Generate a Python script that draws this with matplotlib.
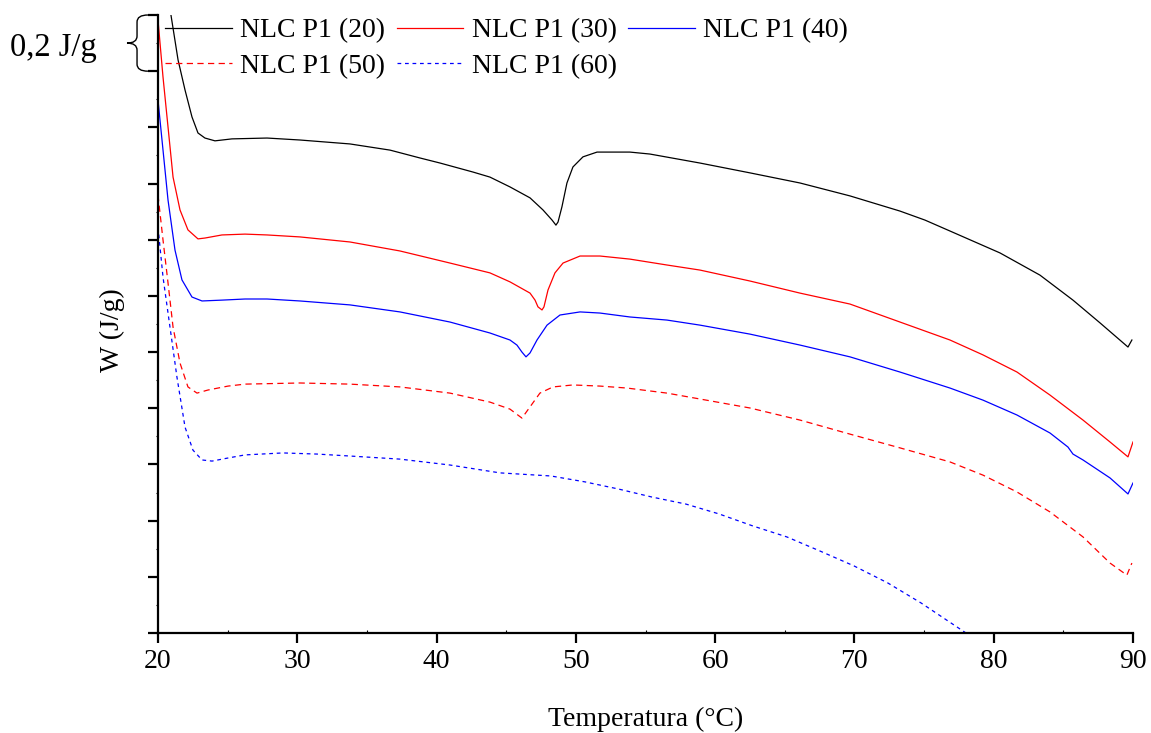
import matplotlib
matplotlib.use("Agg")
import matplotlib.pyplot as plt
from matplotlib.path import Path
from matplotlib.patches import PathPatch
from matplotlib.transforms import blended_transform_factory
from matplotlib.ticker import MultipleLocator, NullFormatter

plt.rcParams['font.family'] = ['Liberation Serif', 'DejaVu Serif']

# NLC P1 (20)
t20 = [20.93, 21.44, 21.94, 22.44, 22.87, 23.37, 24.09, 25.31, 27.83, 30.19,
       33.78, 36.66, 38.81, 40.25, 42.61, 43.83, 45.27, 46.71, 47.64, 48.29,
       48.57, 48.72, 49.00, 49.36, 49.79, 50.51, 51.52, 52.45, 53.88, 55.32,
       58.91, 62.50, 66.09, 69.68, 73.27, 75.06, 76.86, 80.45, 83.32, 85.69,
       87.63, 89.64, 89.92]
w20 = [2.200, 2.040, 1.933, 1.837, 1.780, 1.762, 1.752, 1.759, 1.762, 1.755,
       1.741, 1.719, 1.691, 1.673, 1.641, 1.623, 1.588, 1.549, 1.506, 1.470,
       1.452, 1.463, 1.517, 1.602, 1.659, 1.695, 1.712, 1.712, 1.712, 1.705,
       1.673, 1.638, 1.602, 1.556, 1.502, 1.470, 1.431, 1.353, 1.274, 1.185,
       1.104, 1.018, 1.043]

# NLC P1 (30)
t30 = [20.00, 20.36, 20.72, 21.08, 21.58, 22.15, 22.87, 23.37, 24.59, 26.25,
       27.83, 30.19, 33.78, 37.37, 40.96, 43.83, 45.27, 46.71, 47.07, 47.28,
       47.57, 47.71, 48.00, 48.50, 49.08, 50.30, 51.73, 53.88, 56.54, 58.91,
       62.50, 66.09, 69.68, 73.27, 76.86, 79.23, 81.67, 84.04, 86.41, 88.35,
       89.64, 90.00]
w30 = [2.182, 1.979, 1.801, 1.623, 1.506, 1.435, 1.403, 1.406, 1.417, 1.420,
       1.417, 1.410, 1.392, 1.360, 1.317, 1.282, 1.250, 1.210, 1.185, 1.161,
       1.150, 1.161, 1.221, 1.282, 1.317, 1.342, 1.342, 1.331, 1.310, 1.292,
       1.253, 1.210, 1.171, 1.107, 1.043, 0.990, 0.929, 0.847, 0.758, 0.680,
       0.627, 0.680]

# NLC P1 (40)
t40 = [20.00, 20.36, 20.72, 21.22, 21.72, 22.44, 23.16, 24.59, 26.25, 27.83,
       30.19, 33.78, 37.37, 40.96, 43.83, 45.27, 45.77, 46.13, 46.42, 46.71,
       47.21, 47.93, 48.86, 50.30, 51.73, 53.88, 56.54, 58.91, 62.50, 66.09,
       69.68, 73.27, 76.86, 79.23, 81.67, 84.04, 85.33, 85.69, 86.41, 88.35,
       89.64, 90.00]
w40 = [1.897, 1.719, 1.541, 1.363, 1.257, 1.196, 1.182, 1.185, 1.189, 1.189,
       1.182, 1.168, 1.143, 1.107, 1.068, 1.043, 1.025, 1.000, 0.983, 0.997,
       1.043, 1.096, 1.132, 1.143, 1.139, 1.125, 1.114, 1.096, 1.064, 1.025,
       0.983, 0.929, 0.872, 0.829, 0.776, 0.712, 0.662, 0.637, 0.616, 0.552,
       0.495, 0.534]

# NLC P1 (50)
t50 = [20.00, 20.36, 20.72, 21.08, 21.58, 22.15, 22.80, 23.59, 25.03, 26.25,
       30.19, 33.78, 37.37, 40.96, 43.83, 45.27, 46.13, 46.71, 47.42, 48.36,
       49.79, 51.73, 53.67, 56.54, 58.91, 62.50, 66.09, 69.68, 73.27, 76.86,
       79.23, 81.67, 84.04, 86.41, 88.35, 89.56, 89.92]
w50 = [1.559, 1.399, 1.246, 1.089, 0.961, 0.876, 0.854, 0.865, 0.879, 0.886,
       0.890, 0.886, 0.876, 0.854, 0.822, 0.797, 0.765, 0.805, 0.854, 0.876,
       0.883, 0.879, 0.872, 0.854, 0.833, 0.801, 0.758, 0.708, 0.659, 0.609,
       0.562, 0.502, 0.431, 0.342, 0.249, 0.206, 0.249]

# NLC P1 (60)
t60 = [20.00, 20.36, 20.86, 21.36, 21.94, 22.51, 23.16, 23.88, 25.03, 26.25,
       28.97, 31.41, 33.78, 37.37, 40.96, 44.55, 48.21, 50.65, 53.02, 55.46,
       57.90, 60.27, 62.71, 65.15, 67.52, 69.96, 72.40, 74.78, 78.01]
w60 = [1.445, 1.267, 1.089, 0.911, 0.733, 0.651, 0.616, 0.612, 0.623, 0.634,
       0.641, 0.637, 0.630, 0.619, 0.598, 0.570, 0.559, 0.538, 0.513, 0.484,
       0.459, 0.424, 0.381, 0.342, 0.292, 0.239, 0.178, 0.107, 0.000]

labels = ["NLC P1 (20)", "NLC P1 (30)", "NLC P1 (40)", "NLC P1 (50)", "NLC P1 (60)"]

fig = plt.figure(figsize=(11.51, 7.33), dpi=100)
ax = fig.add_axes([158/1151, 1 - 633/733, 975/1151, 618/733])

l20, = ax.plot(t20, w20, color="black", lw=0.9, label=labels[0])
l30, = ax.plot(t30, w30, color="red", lw=0.9, label=labels[1])
l40, = ax.plot(t40, w40, color="blue", lw=0.9, label=labels[2])
l50, = ax.plot(t50, w50, color="red", lw=0.9, ls=(0, (5, 3.5)), label=labels[3])
l60, = ax.plot(t60, w60, color="blue", lw=0.9, ls=(0, (3, 3)), label=labels[4])

ax.set_xlim(20, 90)
ax.set_ylim(0, 2.2)
ax.xaxis.set_major_locator(MultipleLocator(10))
ax.xaxis.set_minor_locator(MultipleLocator(5))
ax.yaxis.set_major_locator(MultipleLocator(0.2))
ax.yaxis.set_minor_locator(MultipleLocator(0.1))
ax.yaxis.set_major_formatter(NullFormatter())
for s in ["top", "right"]:
    ax.spines[s].set_visible(False)
for s in ["left", "bottom"]:
    ax.spines[s].set_linewidth(1.6)
ax.tick_params(axis="x", which="major", direction="out", length=7, width=1.6,
               labelsize=20, pad=4.5)
ax.tick_params(axis="x", which="minor", direction="in", length=2, width=0.8)
ax.tick_params(axis="y", which="major", direction="out", length=7, width=1.6)
ax.tick_params(axis="y", which="minor", direction="out", length=1.5, width=0.8)

ax.set_xlabel("Temperatura (°C)", fontsize=20, labelpad=23.5)
fig.text(112/1151, 1 - 330/733, "W (J/g)", rotation=90, fontsize=20,
         ha="center", va="center")

# chave de escala (0,2 J/g = uma divisão)
tr = blended_transform_factory(ax.transAxes, ax.transData)
verts = [(-0.0103, 2.2), (-0.0215, 2.2), (-0.0215, 2.175),
         (-0.0215, 2.125), (-0.0215, 2.1), (-0.0318, 2.1),
         (-0.0215, 2.1), (-0.0215, 2.075),
         (-0.0215, 2.025), (-0.0215, 2.0), (-0.0103, 2.0)]
codes = [Path.MOVETO, Path.CURVE3, Path.CURVE3,
         Path.LINETO, Path.CURVE3, Path.CURVE3,
         Path.CURVE3, Path.CURVE3,
         Path.LINETO, Path.CURVE3, Path.CURVE3]
brace = PathPatch(Path(verts, codes), transform=tr, fill=False, lw=1.0,
                  edgecolor="black", clip_on=False)
ax.add_patch(brace)
fig.text(10/1151, 1 - 48/733, "0,2 J/g", fontsize=23.5, ha="left", va="center")

# legenda em 2 linhas (ordem por colunas)
ax.legend([l20, l50, l30, l60, l40], [labels[0], labels[3], labels[1], labels[4], labels[2]],
          ncol=3, frameon=False, fontsize=20, loc="upper left",
          bbox_to_anchor=(165/1151, 1 - 18/733), bbox_transform=fig.transFigure,
          borderpad=0, borderaxespad=0, handlelength=2.4, handletextpad=0.3,
          columnspacing=0.42, labelspacing=0.36)

fig.savefig("out.png", dpi=100)
